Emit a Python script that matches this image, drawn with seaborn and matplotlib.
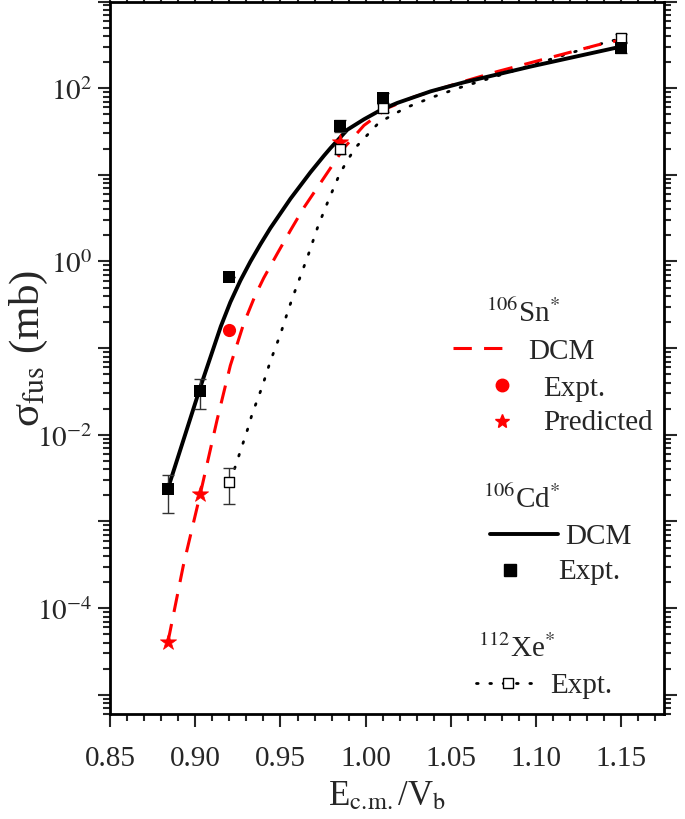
import matplotlib
matplotlib.use("Agg")
import matplotlib.pyplot as plt
import matplotlib.ticker as mticker
import numpy as np
import pandas as pd
import seaborn as sns

# 106Cd* DCM curve (sigma_fus in mb)
cd_dcm_x = [0.884, 0.903, 0.909, 0.915, 0.9206, 0.9265, 0.9324, 0.9383, 0.9441,
            0.9559, 0.9676, 0.9755, 0.9794, 0.985, 0.9892, 0.999, 1.009, 1.0186,
            1.0382, 1.0578, 1.097, 1.15]
cd_dcm_y = [2.4e-3, 0.0355, 0.0794, 0.178, 0.339, 0.603, 1.0, 1.585, 2.43,
            5.31, 10.7, 16.6, 20.4, 26.9, 33.1, 43.7, 56.2, 67.6,
            92.0, 117, 178, 302]

# 106Sn* DCM curve
sn_dcm_x = [0.884, 0.893, 0.903, 0.9128, 0.9206, 0.9284, 0.935, 0.9402, 0.9481,
            0.9559, 0.9637, 0.9794, 0.9872, 0.999, 1.0128, 1.0284, 1.0578,
            1.0775, 1.1069, 1.1363, 1.152]
sn_dcm_y = [4.07e-5, 3.09e-4, 2.09e-3, 0.0148, 0.0631, 0.191, 0.398, 0.646, 1.23,
            2.29, 4.17, 12.0, 20.4, 37.2, 58.9, 79.4, 120,
            156, 222, 316, 367]

# 112Xe* expt. guide (dotted)
xe_line_x = [0.9231, 0.9308, 0.9334, 0.9392, 0.9441, 0.95, 0.9549, 0.9578, 0.9663,
             0.9719, 0.9781, 0.9847, 0.9892, 0.9941, 1.0078, 1.0235, 1.0392,
             1.0549, 1.0951, 1.1186, 1.1422, 1.15]
xe_line_y = [4.07e-3, 0.0117, 0.0174, 0.0355, 0.0708, 0.145, 0.288, 0.417, 1.19,
             2.51, 5.06, 10.2, 14.6, 20.7, 40.1, 59.4, 78.7,
             101, 178, 249, 344, 372]

# experimental / predicted points
cd_exp_x = [0.884, 0.903, 0.920, 0.985, 1.010, 1.150]
cd_exp_y = [2.35e-3, 0.0318, 0.655, 36.6, 77.4, 290]
cd_exp_lo = [1.25e-3, 0.020, 0.655, 31, 67, 255]
cd_exp_hi = [3.4e-3, 0.0436, 0.655, 42.5, 88, 330]

sn_exp_x = [0.920]
sn_exp_y = [0.164]

sn_pred_x = [0.884, 0.903, 0.985]
sn_pred_y = [4.05e-5, 2.09e-3, 24.0]

xe_exp_x = [0.920, 0.985, 1.010, 1.150]
xe_exp_y = [2.83e-3, 19.8, 59.5, 380]
xe_exp_lo = [1.58e-3, 17.5, 53, 340]
xe_exp_hi = [4.1e-3, 22, 66, 420]

sns.set_style("ticks")
plt.rcParams['font.family'] = ['Liberation Serif', 'DejaVu Serif']
plt.rcParams['mathtext.fontset'] = 'stix'

fig = plt.figure(figsize=(6.85, 8.2), dpi=100)
ax = fig.add_axes([110 / 685, 1 - 715 / 820, 554 / 685, 712.5 / 820])

cd_df = pd.DataFrame({'x': cd_dcm_x, 'y': cd_dcm_y})
sn_df = pd.DataFrame({'x': sn_dcm_x, 'y': sn_dcm_y})
xe_df = pd.DataFrame({'x': xe_line_x, 'y': xe_line_y})

sns.lineplot(data=xe_df, x='x', y='y', ax=ax, sort=False, color='black',
             linewidth=2.0, linestyle=(0, (0.6, 4.2)), dash_capstyle='round')
sns.lineplot(data=sn_df, x='x', y='y', ax=ax, sort=False, color='red',
             linewidth=2.2, linestyle=(0, (6, 4)))
sns.lineplot(data=cd_df, x='x', y='y', ax=ax, sort=False, color='black',
             linewidth=2.8)

# error bars
cd_y = np.array(cd_exp_y)
ax.errorbar(cd_exp_x, cd_y,
            yerr=[cd_y - np.array(cd_exp_lo), np.array(cd_exp_hi) - cd_y],
            fmt='none', ecolor='#333333', elinewidth=1.0, capsize=4, capthick=1.0)
xe_y = np.array(xe_exp_y)
ax.errorbar(xe_exp_x, xe_y,
            yerr=[xe_y - np.array(xe_exp_lo), np.array(xe_exp_hi) - xe_y],
            fmt='none', ecolor='#333333', elinewidth=1.0, capsize=4, capthick=1.0)

sns.scatterplot(x=sn_pred_x, y=sn_pred_y, ax=ax, marker='*', s=150,
                color='red', edgecolor='red', linewidth=0.5, zorder=4)
sns.scatterplot(x=sn_exp_x, y=sn_exp_y, ax=ax, marker='o', s=90,
                color='red', edgecolor='red', linewidth=0, zorder=4)
sns.scatterplot(x=xe_exp_x, y=xe_exp_y, ax=ax, marker='s', s=55,
                color='white', edgecolor='black', linewidth=1.0, zorder=5)
sns.scatterplot(x=cd_exp_x, y=cd_exp_y, ax=ax, marker='s', s=65,
                color='black', edgecolor='black', linewidth=0, zorder=6)

# axes
ax.set_yscale('log')
ax.set_xlim(0.85, 1.175)
ax.set_ylim(6e-6, 1000)
ax.xaxis.set_major_locator(mticker.MultipleLocator(0.05))
ax.xaxis.set_minor_locator(mticker.MultipleLocator(0.01))
ax.xaxis.set_major_formatter(mticker.FormatStrFormatter('%.2f'))
ax.yaxis.set_major_locator(mticker.LogLocator(base=10, numticks=20))
ax.yaxis.set_minor_locator(mticker.LogLocator(base=10, subs=np.arange(2, 10), numticks=20))


def ylab(v, pos):
    e = int(round(np.log10(v)))
    if e % 2:
        return ''
    return r'$10^{%d}$' % e


ax.yaxis.set_major_formatter(mticker.FuncFormatter(ylab))
ax.yaxis.set_minor_formatter(mticker.NullFormatter())
ax.tick_params(which='both', direction='out', top=True, right=True,
               labeltop=False, labelright=False, width=1.5, labelsize=21)
ax.tick_params(which='major', length=9)
ax.tick_params(which='minor', length=5)
ax.tick_params(axis='x', which='major', pad=13)
for sp in ax.spines.values():
    sp.set_linewidth(2.0)
    sp.set_color('black')

ax.set_xlabel(r'E$_{\rm c.\!m.}$/V$_{\rm b}$', fontsize=25, labelpad=6)
ax.set_ylabel(r'σ$_{\rm fus}$ (mb)', fontsize=31)
ax.yaxis.set_label_coords(-0.108, 0.515)

# custom legend
tr = ax.transAxes
fs = 21
ax.text(0.6787, 0.5516, r'$^{106}$Sn$^{*}$', transform=tr, fontsize=fs, va='baseline')
ax.plot([0.619, 0.724], [0.5137, 0.5137], transform=tr, color='red',
        linewidth=2.2, linestyle=(0, (6, 4)))
ax.text(0.7545, 0.4996, 'DCM', transform=tr, fontsize=fs, va='baseline')
ax.plot([0.7076], [0.4618], transform=tr, marker='o', markersize=9,
        color='red', linestyle='none')
ax.text(0.7816, 0.4477, 'Expt.', transform=tr, fontsize=fs, va='baseline')
ax.plot([0.7076], [0.4116], transform=tr, marker='*', markersize=10,
        color='red', linestyle='none')
ax.text(0.7816, 0.40, 'Predicted', transform=tr, fontsize=fs, va='baseline')

ax.text(0.6733, 0.2905, r'$^{106}$Cd$^{*}$', transform=tr, fontsize=fs, va='baseline')
ax.plot([0.6859, 0.8087], [0.2526, 0.2526], transform=tr, color='black', linewidth=2.8)
ax.text(0.8213, 0.24, 'DCM', transform=tr, fontsize=fs, va='baseline')
ax.plot([0.722], [0.2025], transform=tr, marker='s', markersize=8,
        color='black', linestyle='none')
ax.text(0.8087, 0.1909, 'Expt.', transform=tr, fontsize=fs, va='baseline')

ax.text(0.6643, 0.0814, r'$^{112}$Xe$^{*}$', transform=tr, fontsize=fs, va='baseline')
ax.plot([0.6606, 0.7599], [0.0442, 0.0442], transform=tr, color='black',
        linewidth=2.0, linestyle=(0, (0.6, 4.2)), dash_capstyle='round')
ax.plot([0.7184], [0.0442], transform=tr, marker='s', markersize=7,
        markerfacecolor='white', markeredgecolor='black', markeredgewidth=1.0,
        linestyle='none')
ax.text(0.7942, 0.0309, 'Expt.', transform=tr, fontsize=fs, va='baseline')

fig.savefig('out.png', dpi=100)
